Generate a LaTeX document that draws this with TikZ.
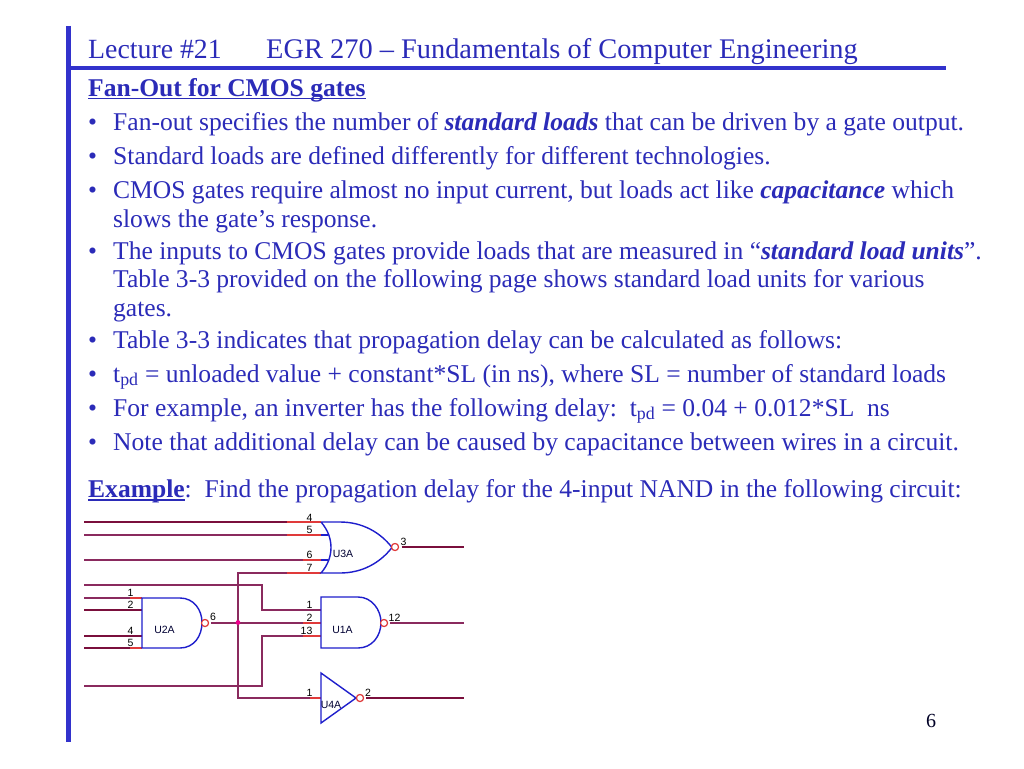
\documentclass[tikz,border=0pt]{standalone}
\usepackage{fontspec}
\setmainfont{Liberation Serif}
\setsansfont{Liberation Sans}
\definecolor{ink}{HTML}{2B2BB8}
\definecolor{barblue}{HTML}{3232CC}
\definecolor{wire}{HTML}{8A2A5E}
\definecolor{darkwire}{HTML}{7A0F3C}
\definecolor{pin}{HTML}{E03A3A}
\definecolor{gateblue}{HTML}{1E1ECC}
\newsavebox{\ulbox}
\newcommand{\ulx}[1]{\sbox{\ulbox}{#1}\leavevmode\rlap{\rule[-3.2pt]{\wd\ulbox}{1.4pt}}\usebox{\ulbox}}
\tikzset{
  x=1pt,y=1pt,
  line/.style={inner sep=0pt,anchor=base west,text=ink,font=\fontsize{25.55}{28}\selectfont},
  bul/.style={inner sep=0pt,anchor=base west,text=ink,font=\fontsize{25.55}{28}\selectfont},
  titletext/.style={inner sep=0pt,anchor=base west,text=ink,font=\fontsize{28.4}{32}\selectfont},
  net/.style={draw=wire,line width=1.7pt},
  dnet/.style={draw=darkwire,line width=1.5pt},
  pinline/.style={draw=pin,line width=1.5pt},
  gate/.style={draw=gateblue,line width=1.4pt,fill=white},
  bubble/.style={circle,draw=pin,line width=1.1pt,minimum size=7pt,inner sep=0pt,fill=white},
  pinno/.style={inner sep=0pt,anchor=base,text=black,font=\sffamily\fontsize{10.5}{12}\selectfont},
  partname/.style={inner sep=0pt,text=black!80!blue,font=\sffamily\fontsize{10.5}{12}\selectfont},
}
\newcommand{\pt}[3]{\coordinate (#1) at (#2,-#3);}
\begin{document}
\begin{tikzpicture}
\useasboundingbox (0,0) rectangle (1024,-768);
\fill[white] (0,0) rectangle (1024,-768);
% frame bars
\pt{barT}{68.5}{26}\pt{barB}{68.5}{742}\pt{ruleL}{68.5}{68}\pt{ruleR}{946}{68}
\draw[barblue,line width=4.5pt] (barT) -- (barB);
\draw[barblue,line width=4pt] (ruleL) -- (ruleR);
% text
\node[titletext,font=\fontsize{27.8}{32}\selectfont] (title1) at (88,-59) {Lecture \#21};
\node[titletext] (title2) at (266,-59) {EGR 270 – Fundamentals of Computer Engineering};
\node[line] (head) at (88,-96) {\ulx{\textbf{Fan-Out for CMOS gates}}};
\foreach \n/\y in {a/130,b/164,c/198,d/259,e/348,f/382,g/416,h/450}{
  \node[bul] (b\n) at (88,-\y) {•};
}
\node[line] (t1) at (113,-130) {Fan-out specifies the number of \textbf{\textit{standard loads}} that can be driven by a gate output.};
\node[line] (t2) at (113,-164) {Standard loads are defined differently for different technologies.};
\node[line] (t3) at (113,-198) {CMOS gates require almost no input current, but loads act like \textbf{\textit{capacitance}} which};
\node[line] (t3b) at (113,-227) {slows the gate’s response.};
\node[line] (t4) at (113,-259) {The inputs to CMOS gates provide loads that are measured in “\textbf{\textit{standard load units}}”.};
\node[line] (t4b) at (113,-287) {Table 3-3 provided on the following page shows standard load units for various};
\node[line] (t4c) at (113,-316) {gates.};
\node[line] (t5) at (113,-348) {Table 3-3 indicates that propagation delay can be calculated as follows:};
\node[line] (t6) at (113,-382) {t\textsubscript{pd} = unloaded value + constant*SL (in ns), where SL = number of standard loads};
\node[line] (t7) at (113,-416) {For example, an inverter has the following delay:\ \ t\textsubscript{pd} = 0.04 + 0.012*SL\ \ ns};
\node[line] (t8) at (113,-450) {Note that additional delay can be caused by capacitance between wires in a circuit.};
\node[line] (ex) at (88,-497.5) {\ulx{\textbf{Example}}:\ \ Find the propagation delay for the 4-input NAND in the following circuit:};
\node[line,text=black!85!blue,font=\fontsize{20}{24}\selectfont] (pg) at (926,-727) {6};
% coordinates
\pt{i1}{84}{522}\pt{i2}{84}{535}\pt{i3}{84}{560}
\pt{i4}{84}{585}\pt{i5}{84}{598}\pt{i6}{84}{610}\pt{i7}{84}{636}\pt{i8}{84}{648}\pt{i9}{84}{686}
\pt{u3p4}{321}{522}\pt{u3p5}{321}{535}\pt{u3p6}{321}{560}\pt{u3p7}{321}{573}
\pt{u1p1}{321}{610}\pt{u1p2}{321}{623}\pt{u1p13}{321}{636}
\pt{u2p1}{142}{598}\pt{u2p2}{142}{610}\pt{u2p4}{142}{636}\pt{u2p5}{142}{648}
\pt{u4p1}{321}{698}
\pt{o3}{464}{547}\pt{o1}{464}{623}\pt{o4}{464}{698}
\pt{nt}{238}{573}\pt{nb}{238}{698}\pt{junc}{238}{622.5}
\pt{k1}{262}{585}\pt{k2}{262}{610}\pt{k3}{262}{636}\pt{k4}{262}{686}
% bubbles
\node[bubble] (bu2) at (205,-623) {};
\node[bubble] (bu1) at (384,-623) {};
\node[bubble] (bu3) at (395,-547) {};
\node[bubble] (bu4) at (360,-698) {};
% nets
\draw[dnet] (i1) -- (u3p4);
\draw[net] (i2) -- (u3p5);
\draw[net] (i3) -- (u3p6);
\draw[net] (i4) -- (k1) -- (k2) -- (u1p1);
\draw[net] (i5) -- (u2p1);
\draw[dnet] (i6) -- (u2p2);
\draw[dnet] (i7) -- (u2p4);
\draw[dnet] (i8) -- (u2p5);
\draw[net] (i9) -- (k4) -- (k3) -- (u1p13);
\draw[net] (u3p7) -- (nt) -- (nb) -- (u4p1);
\draw[net,shorten <=2pt] (bu2) -- (u1p2);
\draw[dnet,shorten <=2.5pt] (bu3) -- (o3);
\draw[net,shorten <=2pt] (bu1) -- (o1);
\draw[dnet,shorten <=2pt] (bu4) -- (o4);
% red pin stubs
\draw[pinline] (287,-522) -- (u3p4);
\draw[pinline] (287,-535) -- (u3p5);
\draw[pinline] (303,-560) -- (u3p6);
\draw[pinline] (287,-573) -- (u3p7);
\draw[pinline] (303,-623) -- (u1p2);
\draw[pinline] (303,-636) -- (u1p13);
\draw[pinline] (310,-698) -- (u4p1);
\draw[pinline] (130,-598) -- (u2p1);
\draw[pinline] (130,-648) -- (u2p5);
% gate bodies
\draw[gate] (142,-598) -- (180,-598) .. controls (194,-598) and (202,-610) .. (202,-622.5) .. controls (202,-636) and (194,-648) .. (180,-648) -- (142,-648) -- cycle;
\draw[gate] (321,-597) -- (358,-597) .. controls (372,-597) and (381,-610) .. (381,-622.5) .. controls (381,-636) and (372,-648) .. (358,-648) -- (321,-648) -- cycle;
\draw[gate] (321,-522) -- (340,-522) .. controls (362,-522) and (380,-532) .. (392,-547.5) .. controls (380,-563) and (362,-573) .. (340,-573) -- (321,-573) .. controls (328,-565) and (331,-556) .. (331,-547.5) .. controls (331,-539) and (328,-530) .. (321,-522);
\draw[gate] (321,-673) -- (356,-698) -- (321,-723) -- cycle;
\draw[draw=gateblue,line width=1.4pt] (321,-535) -- (328,-535) (321,-560) -- (328,-560);
\node[bubble] at (bu2) {};
\node[bubble] at (bu1) {};
\node[bubble] at (bu3) {};
\node[bubble] at (bu4) {};
\fill[magenta] (junc) circle (2.4pt);
% labels
\node[partname] (nu2) at (164.5,-630) {U2A};
\node[partname] (nu1) at (342.5,-630) {U1A};
\node[partname] (nu3) at (343,-554) {U3A};
\node[partname] (nu4) at (331,-705) {U4A};
\foreach \x/\y/\s in {130.5/596/1,130.5/608/2,130.5/634/4,130.5/646/5,213/620/6,
  309.5/521/4,309.5/533/5,309.5/558/6,309.5/571/7,309.5/608/1,309.5/621/2,306.5/634/13,
  403.5/545/3,394.5/621/12,309.5/696/1,368/696/2}{
  \node[pinno] at (\x,-\y) {\s};
}
\end{tikzpicture}
\end{document}
